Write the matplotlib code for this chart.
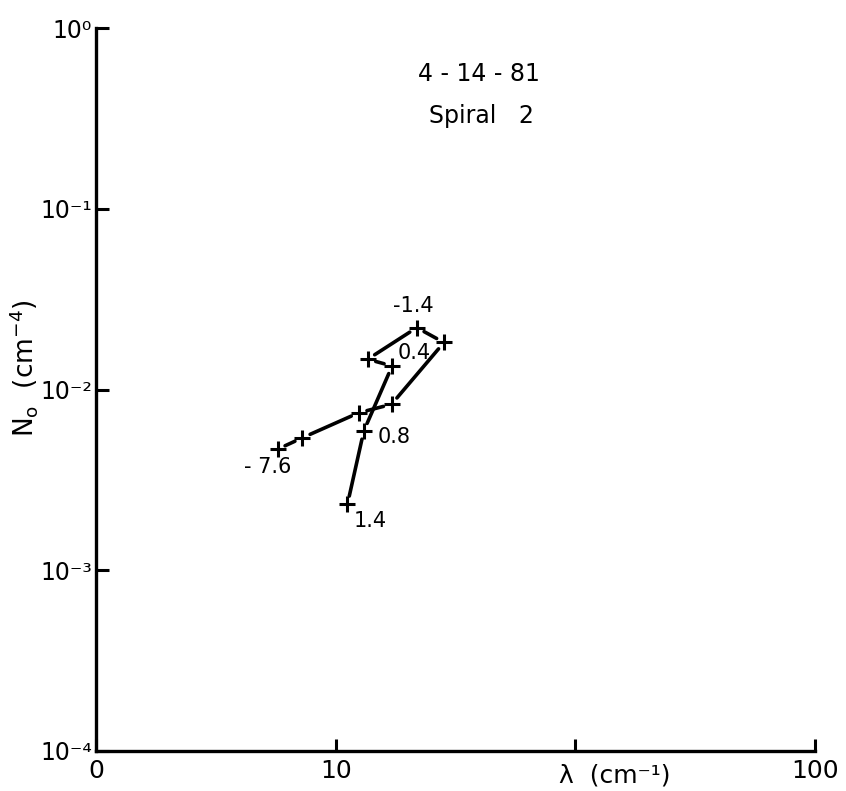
import matplotlib
matplotlib.use('Agg')
import matplotlib.pyplot as plt

plt.rcParams['font.family'] = ['DejaVu Sans']
plt.rcParams['mathtext.default'] = 'regular'

# lambda (cm^-1) and N0 (cm^-4), in drawing order
lam = [5.72, 7.27, 12.5, 17.1, 28.3, 21.8, 13.6, 17.2, 13.1, 11.2]
n0 = [4.67e-3, 5.41e-3, 7.44e-3, 8.28e-3, 1.82e-2, 2.20e-2, 1.47e-2, 1.35e-2, 5.89e-3, 2.32e-3]

# labelled points (index into the trace) and their labels
label_idx = [0, 5, 7, 8, 9]
label_txt = ['- 7.6', '-1.4', '0.4', '0.8', '1.4']
label_off = [(-10, -18), (-3, 22), (22, 13), (30, -6), (23, -17)]

xticks = [1, 10, 100, 1000]
xticklabels = ['0', '10', '', '100']
yticks = [1e-4, 1e-3, 1e-2, 1e-1, 1e0]
yticklabels = ['10\u207b\u2074', '10\u207b\u00b3', '10\u207b\u00b2', '10\u207b\u00b9', '10\u2070']

fig = plt.figure(figsize=(8.46, 7.91), dpi=100)
ax = fig.add_axes([96 / 846, 1 - 751 / 791, 719 / 846, 723 / 791])

ax.set_xscale('log')
ax.set_yscale('log')
ax.set_xlim(1, 1000)
ax.set_ylim(1e-4, 1e0)

# broken connecting lines, stopping short of each marker
for i in range(len(lam) - 1):
    ax.annotate('', xy=(lam[i + 1], n0[i + 1]), xytext=(lam[i], n0[i]),
                arrowprops=dict(arrowstyle='-', lw=2.6, color='black',
                                shrinkA=6, shrinkB=6))
ax.plot(lam, n0, linestyle='none', marker='+', markersize=12,
        markeredgewidth=2.2, color='black')

for i, t, off in zip(label_idx, label_txt, label_off):
    ax.annotate(t, (lam[i], n0[i]), xytext=off, textcoords='offset pixels',
                ha='center', va='center', fontsize=15)

ax.set_xticks(xticks)
ax.set_xticklabels(xticklabels, fontsize=18)
ax.set_yticks(yticks)
ax.set_yticklabels(yticklabels, fontsize=17)
ax.minorticks_off()
ax.tick_params(direction='in', length=9, width=2.2)
ax.tick_params(axis='y', pad=3)
ax.tick_params(axis='x', pad=6)

for s in ['top', 'right']:
    ax.spines[s].set_visible(False)
for s in ['left', 'bottom']:
    ax.spines[s].set_linewidth(2.4)

fig.text(615 / 846, 1 - 776 / 791, '\u03bb  (cm\u207b\u00b9)', ha='center',
         va='center', fontsize=18)
fig.text(24 / 846, 1 - 368 / 791, r'N$_o$  (cm$^{-4}$)', ha='center',
         va='center', rotation=90, fontsize=19)

fig.text(479 / 846, 1 - 74 / 791, '4 - 14 - 81', ha='center', va='center',
         fontsize=17)
fig.text(481 / 846, 1 - 116 / 791, 'Spiral   2', ha='center', va='center',
         fontsize=17)

fig.savefig('out.png', dpi=100)
